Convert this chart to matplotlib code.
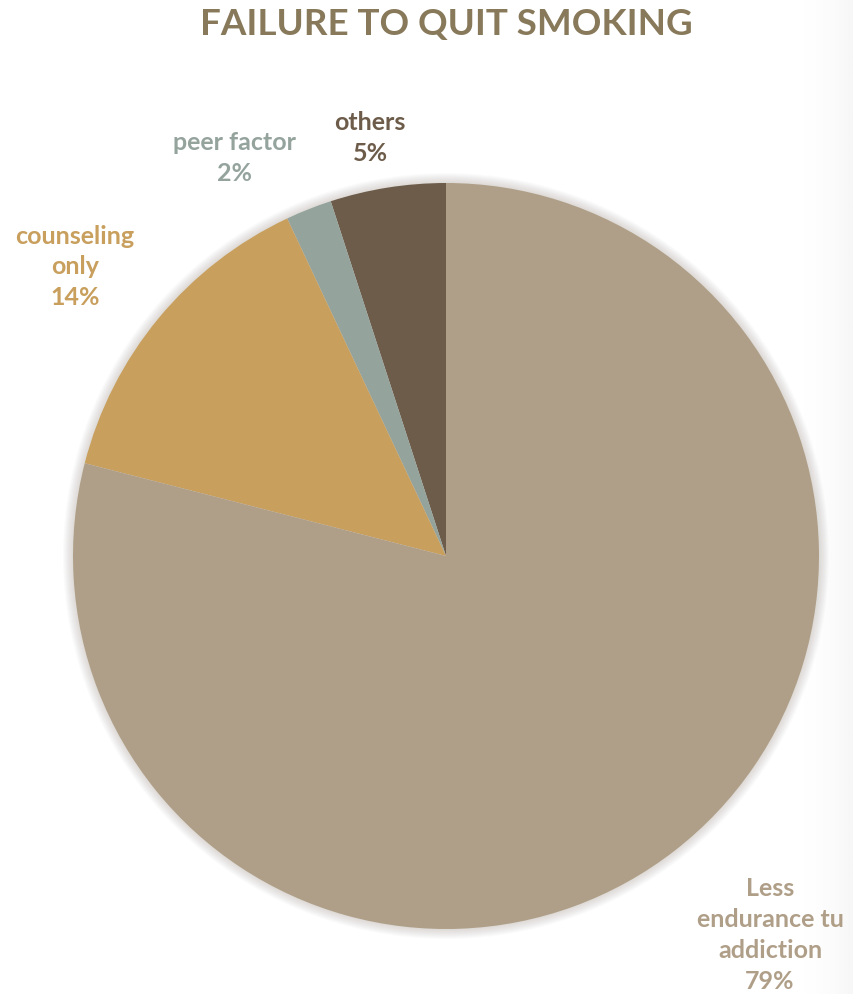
import numpy as np
import matplotlib.pyplot as plt
from matplotlib.patches import Circle

# Motivos de falha ao tentar parar de fumar
categorias = ["others", "peer factor", "counseling\nonly", "Less\nendurance tu\naddiction"]
valores = [5, 2, 14, 79]
cores = ["#6D5C4A", "#95A39D", "#C89F5D", "#B09F88"]

fig = plt.figure(figsize=(8.54, 9.94), dpi=100)
ax = fig.add_axes([0, 0, 1, 1])
ax.set_xlim(0, 854)
ax.set_ylim(0, 994)
ax.axis("off")

# leve sombra cinza na borda direita
grad = np.linspace(0, 1, 64).reshape(1, -1) ** 2
ax.imshow(grad, extent=(790, 854, 0, 994), cmap="Greys", vmin=0, vmax=14,
          aspect="auto", zorder=0, alpha=0.9)

cx, cy, raio = 446, 438, 373

# sombra suave em volta da pizza
for k in range(10, 0, -1):
    ax.add_patch(Circle((cx, cy), raio + k, color="#5a5040", alpha=0.02, lw=0, zorder=1))

wedges, _ = ax.pie(valores, colors=cores, startangle=90, counterclock=True,
                   radius=raio, center=(cx, cy), frame=True,
                   wedgeprops=dict(linewidth=0, zorder=2))
ax.set_xlim(0, 854)
ax.set_ylim(0, 994)
ax.set_aspect("equal")
ax.axis("off")

# posição dos rótulos (pixels)
pos_rotulos = [(370, 856), (235, 836), (75, 727), (770, 59)]
for nome, v, cor, (x, y) in zip(categorias, valores, cores, pos_rotulos):
    ax.text(x, y, f"{nome}\n{v}%", ha="center", va="center", color=cor,
            fontsize=18, fontweight="bold", family="Lato", linespacing=1.42)

ax.text(446, 970, "FAILURE TO QUIT SMOKING", ha="center", va="center",
        color="#87795A", fontsize=26.5, fontweight="bold", family="Lato")

fig.savefig("out.png", dpi=100)
